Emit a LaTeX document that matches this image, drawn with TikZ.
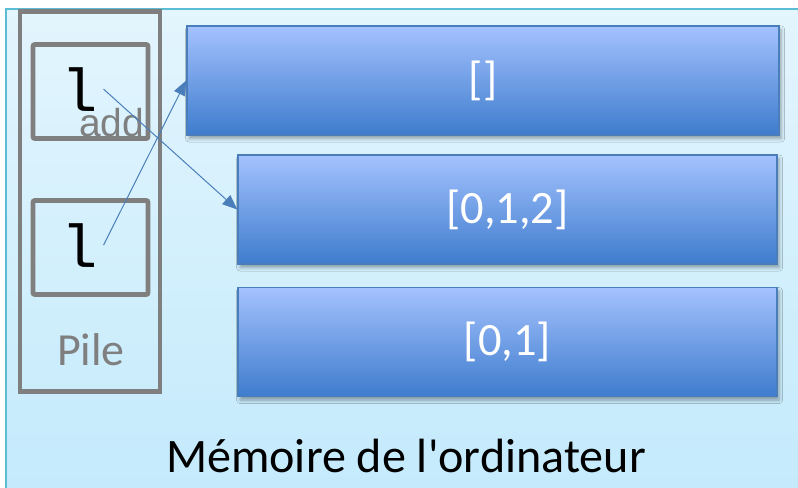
\documentclass[tikz,border=0pt]{standalone}
\usepackage{fontspec}
\setmainfont{Carlito}
\newfontfamily\codefont{Liberation Mono}
\newfontfamily\labelfont{Liberation Sans}
\usetikzlibrary{arrows.meta,shadows.blur,calc}

\definecolor{bgtop}{HTML}{E3F5FD}
\definecolor{bgbottom}{HTML}{C3EAFC}
\definecolor{bgedge}{HTML}{5BBCD4}
\definecolor{celltop}{HTML}{A4C2FE}
\definecolor{cellbottom}{HTML}{3E7CCD}
\definecolor{celledge}{HTML}{4A7EBB}
\definecolor{stackgray}{HTML}{7F7F7F}

\tikzset{
    membox/.style={draw=celledge, line width=1pt, top color=celltop, bottom color=cellbottom,
        text=white, minimum height=2.725cm, font=\fontsize{33}{36}\selectfont,
        blur shadow={shadow xshift=1.5pt, shadow yshift=-2.5pt, shadow blur radius=2.5pt, shadow opacity=35}},
    slot/.style={draw=stackgray, line width=3.5pt, rounded corners=1.5pt,
        minimum width=2.875cm, minimum height=2.35cm},
    var/.style={font=\codefont\fontsize{43}{44}\selectfont, inner xsep=4pt, anchor=base},
    ref/.style={draw=celledge, line width=0.7pt, -{Triangle[length=0.37cm,width=0.3cm]}},
}

\begin{document}
\begin{tikzpicture}[x=0.025cm, y=-0.025cm]
    \useasboundingbox (0,0) rectangle (798,488);
    % memory area
    \shade[top color=bgtop, bottom color=bgbottom] (6,9) rectangle (810,500);
    \draw[bgedge, line width=1pt] (6,9) rectangle (810,500);
    \node[font=\fontsize{34.2}{36}\selectfont, anchor=base] (memLabel) at (406,472) {Mémoire de l\textquotesingle ordinateur};

    % the stack and its two slots
    \node[draw=stackgray, line width=3.5pt, minimum width=3.5cm, minimum height=9.475cm] (pile) at (90,201.5) {};
    \node[font=\fontsize{32.7}{36}\selectfont, text=stackgray, anchor=base] (pileLabel) at (91,365) {Pile};
    \foreach \n/\y/\b in {Top/91.5/111, Bottom/247.5/267} {
      \node[slot] (slot\n) at (90.5,\y) {};
      \node[var] (var\n) at (79.5,\b) {l};
    }
    \node[font=\labelfont\fontsize{27.7}{30}\selectfont, text=stackgray, anchor=base west, inner sep=0pt] (addLabel) at (79,136) {add};

    % lists in memory
    \node[membox, minimum width=14.8cm] (listEmpty) at (483,80.5) {[]};
    \node[membox, minimum width=13.475cm] (listThree) at (507.5,209.5) {[0,1,2]};
    \node[membox, minimum width=13.475cm] (listTwo) at (507.5,342) {[0,1]};

    % references
    \draw[ref] (varTop.east) -- (listThree.west);
    \draw[ref] (varBottom.east) -- (listEmpty.west);
  \end{tikzpicture}
\end{document}
